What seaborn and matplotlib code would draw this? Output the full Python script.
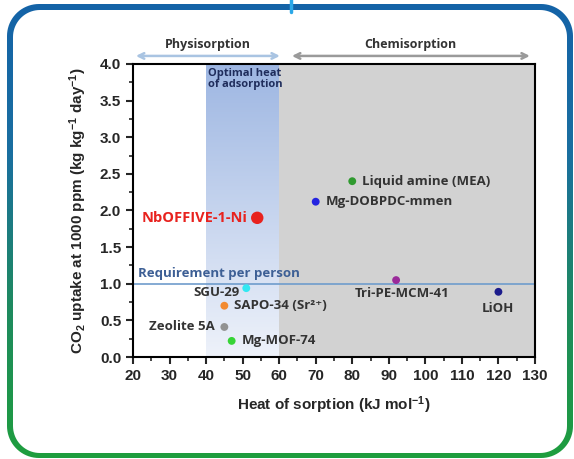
import numpy as np
import pandas as pd
import seaborn as sns
import matplotlib.pyplot as plt
from matplotlib.path import Path
from matplotlib.patches import PathPatch
from matplotlib.ticker import MultipleLocator
from matplotlib.colors import LinearSegmentedColormap

# data
materials = ["NbOFFIVE-1-Ni", "Liquid amine (MEA)", "Mg-DOBPDC-mmen", "Tri-PE-MCM-41",
             "LiOH", "SGU-29", "SAPO-34 (Sr²⁺)", "Zeolite 5A", "Mg-MOF-74"]
heat = [54, 80, 70, 92, 120, 51, 45, 45, 47]
uptake = [1.90, 2.40, 2.12, 1.05, 0.89, 0.94, 0.70, 0.41, 0.22]
colors = ["#e8221e", "#2f9a2f", "#2424e0", "#9a2a9a", "#1c1c8c",
          "#33e8f2", "#f28a30", "#929292", "#36d436"]
requirement = 1.0

df = pd.DataFrame({"material": materials, "heat": heat, "uptake": uptake})
df["size"] = [80 if m.startswith("NbOFFIVE") else 32 for m in materials]

sns.set_style("ticks")
plt.rcParams["font.family"] = ["Liberation Sans", "DejaVu Sans"]
plt.rcParams["mathtext.fontset"] = "custom"
plt.rcParams["mathtext.rm"] = "Liberation Sans:bold"
plt.rcParams["mathtext.default"] = "rm"

fig = plt.figure(figsize=(5.74, 4.59), dpi=100)

# rounded gradient frame (blue top -> green bottom)
bg = fig.add_axes([0, 0, 1, 1])
bg.set_xlim(0, 574)
bg.set_ylim(459, 0)
bg.axis("off")

def rrect(x0, y0, x1, y1, r, n=20):
    pts = []
    for cx, cy, a0 in [(x1 - r, y0 + r, -90), (x1 - r, y1 - r, 0), (x0 + r, y1 - r, 90), (x0 + r, y0 + r, 180)]:
        for a in np.linspace(a0, a0 + 90, n):
            pts.append((cx + r * np.cos(np.radians(a)), cy + r * np.sin(np.radians(a))))
    return np.array(pts)

outer = rrect(7, 4, 573, 458, 32)
inner = rrect(13, 10, 567, 453, 27)[::-1]
verts = np.concatenate([outer, outer[:1], inner, inner[:1]])
codes = ([Path.MOVETO] + [Path.LINETO] * (len(outer) - 1) + [Path.CLOSEPOLY]) * 2
ring = PathPatch(Path(verts, codes), facecolor="none", edgecolor="none")
bg.add_patch(ring)
grad = np.linspace(0, 1, 256)[:, None]
frame_cmap = LinearSegmentedColormap.from_list("frame", ["#1463a8", "#1a6fa0", "#1f8a60", "#1e9e3e"])
im = bg.imshow(grad, cmap=frame_cmap, extent=[0, 574, 459, 0], aspect="auto")
im.set_clip_path(ring)
bg.plot([291, 291], [0, 12], color="#2ba8e8", lw=2.5)

ax = fig.add_axes([0.2317, 0.2222, 0.7003, 0.6384])

# optimal heat band with vertical gradient, chemisorption band in grey
band_cmap = LinearSegmentedColormap.from_list("band", ["#eef2fa", "#9db6e2"])
ax.imshow(np.linspace(0, 1, 256)[:, None], cmap=band_cmap, origin="lower",
          extent=[40, 60, 0, 4], aspect="auto", zorder=0)
ax.axvspan(60, 130, color="#d2d2d2", zorder=0, lw=0)
ax.set_xlim(20, 130)
ax.set_ylim(0, 4)

ax.axhline(requirement, color="#6f9ccc", lw=1.2, zorder=1)

sns.scatterplot(data=df, x="heat", y="uptake", hue="material", palette=dict(zip(materials, colors)),
                size="size", sizes=(32, 80), legend=False, edgecolor="none", ax=ax, zorder=3)

lab_fam = ["Open Sans", "DejaVu Sans"]
lab_font = dict(family=lab_fam, fontweight="bold", fontsize=9.5, color="#333333")
offsets = {
    "NbOFFIVE-1-Ni": (-7, 0, "right", "center"),
    "Liquid amine (MEA)": (7, 0, "left", "center"),
    "Mg-DOBPDC-mmen": (7, 0, "left", "center"),
    "Tri-PE-MCM-41": (4, -5, "center", "top"),
    "LiOH": (0, -7, "center", "top"),
    "SGU-29": (-5, -3, "right", "center"),
    "SAPO-34 (Sr²⁺)": (7, 0, "left", "center"),
    "Zeolite 5A": (-7, 0, "right", "center"),
    "Mg-MOF-74": (7, 0, "left", "center"),
}
for m, x, y in zip(materials, heat, uptake):
    dx, dy, ha, va = offsets[m]
    kw = dict(lab_font)
    if m.startswith("NbOFFIVE"):
        kw.update(color="#e8221e", fontsize=10.5)
    ax.annotate(m, (x, y), xytext=(dx, dy), textcoords="offset points", ha=ha, va=va, zorder=4, **kw)

ax.text(21.5, 1.05, "Requirement per person", ha="left", va="bottom", fontsize=9.5,
        fontweight="bold", color="#3d5f95", family=lab_fam)
ax.text(40.5, 3.95, "Optimal heat\nof adsorption", ha="left", va="top", fontsize=8,
        fontweight="bold", color="#1f2d5c", family=lab_fam, linespacing=1.1)

# sorption regime arrows
ax.annotate("", xy=(20.8, 4.11), xytext=(60.2, 4.11), xycoords="data", annotation_clip=False,
            arrowprops=dict(arrowstyle="<->", color="#a9c4e2", lw=1.8, shrinkA=0, shrinkB=0))
ax.annotate("", xy=(63.5, 4.11), xytext=(128.6, 4.11), xycoords="data", annotation_clip=False,
            arrowprops=dict(arrowstyle="<->", color="#9a9a9a", lw=1.8, shrinkA=0, shrinkB=0))
ax.text(40.5, 4.27, "Physisorption", ha="center", va="center", fontsize=9, fontweight="bold",
        color="#333333", family=lab_fam, clip_on=False)
ax.text(96, 4.27, "Chemisorption", ha="center", va="center", fontsize=9, fontweight="bold",
        color="#333333", family=lab_fam, clip_on=False)

for s in ax.spines.values():
    s.set_linewidth(1.5)
    s.set_color("black")
ax.xaxis.set_major_locator(MultipleLocator(10))
ax.xaxis.set_minor_locator(MultipleLocator(5))
ax.yaxis.set_major_locator(MultipleLocator(0.5))
ax.yaxis.set_minor_locator(MultipleLocator(0.25))
ax.tick_params(which="major", direction="out", length=5, width=1.5, labelsize=11)
ax.tick_params(which="minor", direction="out", length=3, width=1.2)
ax.set_xticks(range(20, 131, 10))
ax.set_yticks(np.arange(0, 4.01, 0.5))
ax.set_yticklabels([f"{v:.1f}" for v in np.arange(0, 4.01, 0.5)], fontweight="bold")
ax.set_xticklabels([str(v) for v in range(20, 131, 10)], fontweight="bold")

ax.set_xlabel("Heat of sorption (kJ mol$^{-1}$)", fontsize=11, fontweight="bold", labelpad=8)
ax.set_ylabel("CO$_2$ uptake at 1000 ppm (kg kg$^{-1}$ day$^{-1}$)", fontsize=11,
              fontweight="bold", labelpad=8)

fig.savefig("out.png", dpi=100)
